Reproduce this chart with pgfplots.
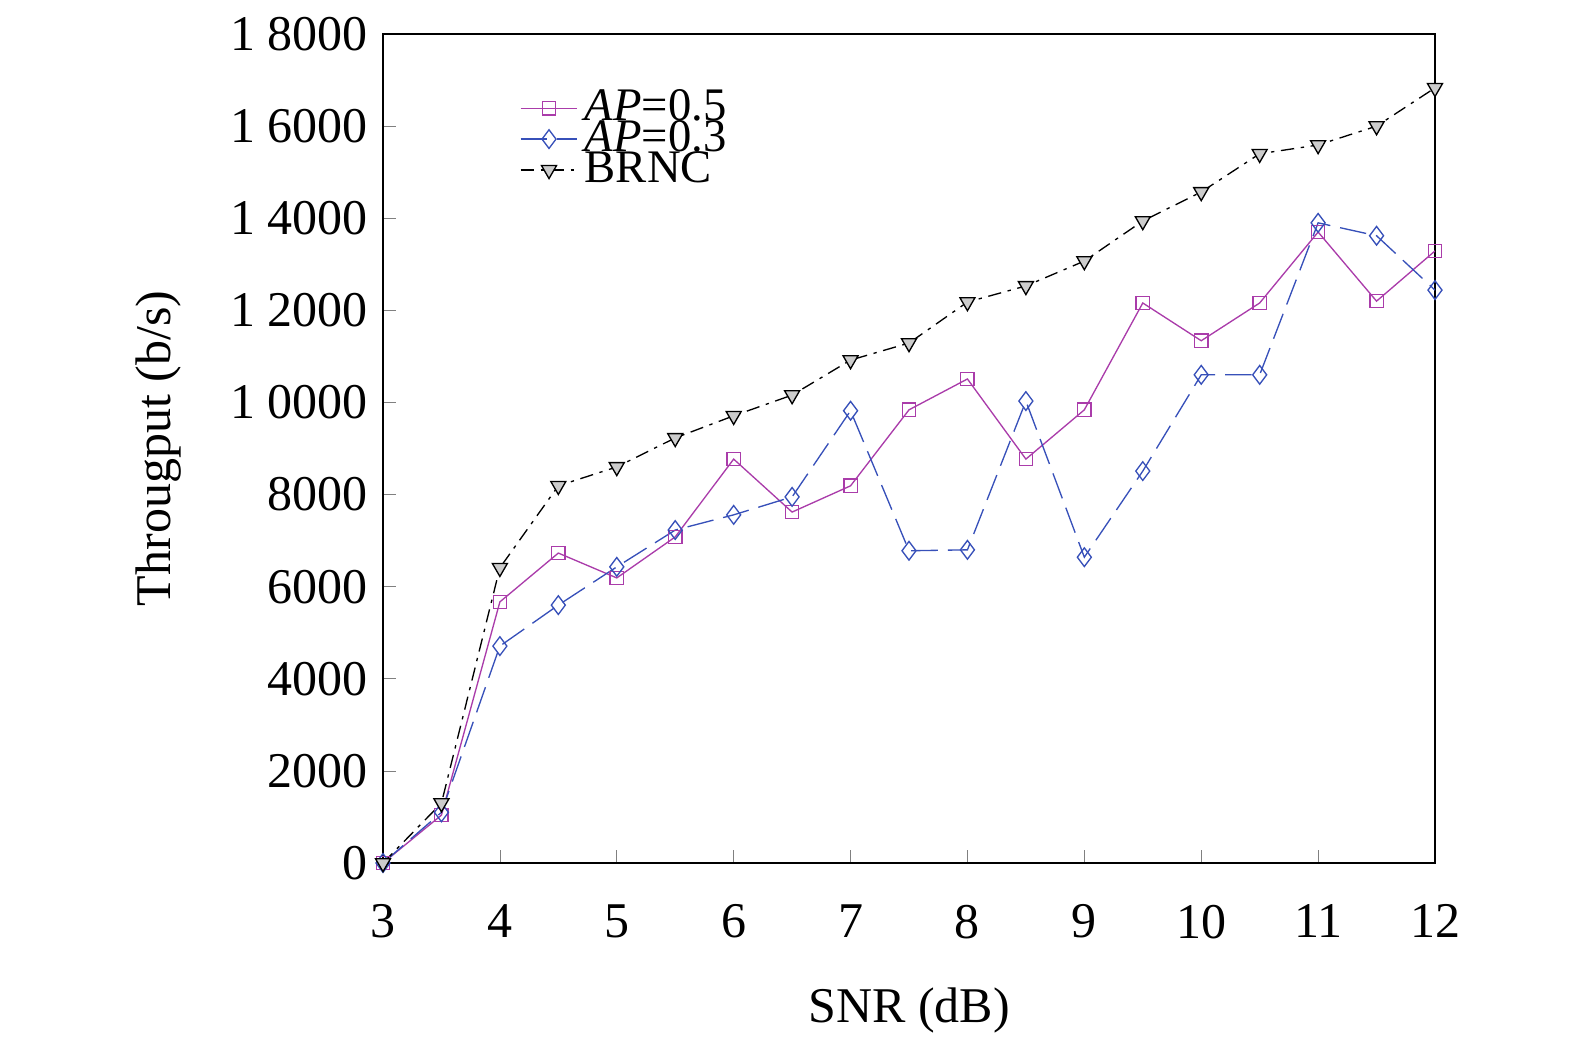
\documentclass[border=0pt]{standalone}
\usepackage{pgfplots}
\pgfplotsset{compat=1.18}
\usepackage{fontspec}
\setmainfont{Liberation Serif}
\definecolor{cA}{RGB}{170,60,170}
\definecolor{cB}{RGB}{55,80,185}
\begin{document}
\fontsize{13}{15}\selectfont
\begin{tikzpicture}
\begin{axis}[
 at={(0,0)}, anchor=south west,
 scale only axis, width=315.6pt, height=248.7pt,
 xmin=3, xmax=12, ymin=0, ymax=18000,
 xtick={3,...,12},
 ytick={0,2000,...,18000},
 yticklabels={0,2000,4000,6000,8000,1 0000,1 2000,1 4000,1 6000,1 8000},
 tick align=inside, xtick pos=bottom, ytick pos=left,
 major tick length=4pt,
 scaled y ticks=false,
 /pgf/number format/assume math mode=true,
 tick label style={font=\fontsize{15}{16}\selectfont},
 label style={font=\fontsize{15}{16}\selectfont},
 xlabel={SNR (dB)}, ylabel={Througput (b/s)},
 xticklabel style={yshift=-8pt},
 xlabel style={yshift=-6pt},
 ylabel style={yshift=6pt},
 legend style={draw=none, fill=none, at={(0.12,0.95)}, anchor=north west, font=\fontsize{14}{12}\selectfont, row sep=-6pt},
 legend cell align=left,
 every axis plot/.append style={mark size=2pt, thin},
]
\addplot[cA, mark=square, mark options={solid}] coordinates {
(3,0)(3.5,1040)(4,5670)(4.5,6730)(5,6190)(5.5,7080)(6,8770)(6.5,7620)(7,8190)(7.5,9840)(8,10510)(8.5,8770)(9,9840)(9.5,12160)(10,11340)(10.5,12160)(11,13700)(11.5,12200)(12,13290)};
\addlegendentry{\textit{AP}=0.5}
\addplot[cB, dash pattern=on 8pt off 3pt, mark=diamond, mark size=2.8pt, mark options={solid}] coordinates {
(3,0)(3.5,1100)(4,4710)(4.5,5600)(5,6430)(5.5,7230)(6,7560)(6.5,7950)(7,9820)(7.5,6780)(8,6800)(8.5,10030)(9,6640)(9.5,8510)(10,10600)(10.5,10600)(11,13900)(11.5,13620)(12,12440)};
\addlegendentry{\textit{AP}=0.3}
\addplot[black, dash pattern=on 4pt off 2pt on 1pt off 2pt, mark=triangle*, mark size=2.6pt, mark options={solid, rotate=180, fill=gray!40, draw=black}] coordinates {
(3,0)(3.5,1300)(4,6410)(4.5,8190)(5,8600)(5.5,9230)(6,9710)(6.5,10160)(7,10920)(7.5,11290)(8,12180)(8.5,12530)(9,13070)(9.5,13940)(10,14570)(10.5,15400)(11,15590)(11.5,16000)(12,16830)};
\addlegendentry{BRNC}
\end{axis}
\pgfresetboundingbox
\path[use as bounding box] (-114.9pt,-57.9pt) rectangle (357.6pt,258.9pt);
\end{tikzpicture}
\end{document}
